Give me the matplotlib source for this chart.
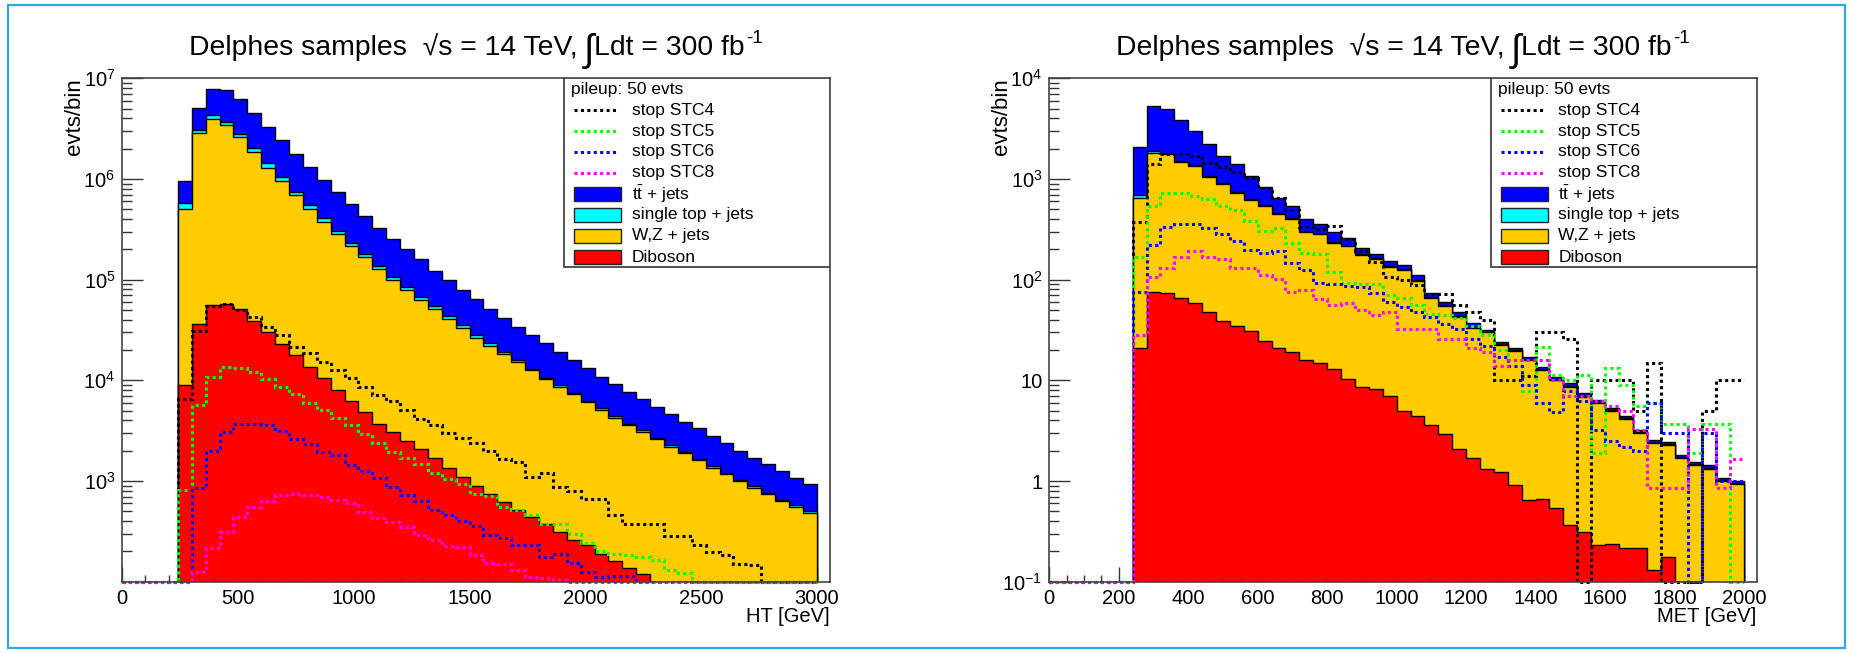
import numpy as np
import matplotlib
matplotlib.use("Agg")
import matplotlib.pyplot as plt
from matplotlib.patches import Rectangle
from matplotlib.lines import Line2D
from matplotlib.transforms import IdentityTransform
from matplotlib.ticker import FixedLocator, FixedFormatter, LogLocator, MultipleLocator, NullFormatter

plt.rcParams['font.family'] = ['Liberation Sans', 'DejaVu Sans']
plt.rcParams['mathtext.fontset'] = 'custom'
plt.rcParams['mathtext.rm'] = 'Liberation Sans'
plt.rcParams['mathtext.it'] = 'Liberation Sans:italic'
plt.rcParams['mathtext.bf'] = 'Liberation Sans:bold'

# ---------------- HT panel data (60 GeV bins, first filled bin starts at 240 GeV) ----------------
ht_bin_width = 60
ht_first_edge = 240
ht_diboson = [9.0e3, 3.6e4, 5.6e4, 5.7e4, 5.1e4, 3.9e4, 3.0e4, 2.3e4, 1.8e4, 1.36e4, 1.05e4, 8.0e3,
              6.2e3, 4.8e3, 3.7e3, 3.1e3, 2.5e3, 2.1e3, 1.7e3, 1.36e3, 1.1e3, 890, 750, 620, 520, 440,
              370, 310, 260, 230, 190, 160, 136, 118, 0, 0, 0, 0, 0, 0, 0, 0, 0, 0, 0, 0]
ht_wz = [4.95e5, 2.80e6, 3.85e6, 3.35e6, 2.54e6, 1.81e6, 1.27e6, 9.3e5, 6.7e5, 4.93e5, 3.66e5, 2.76e5,
         2.10e5, 1.62e5, 1.24e5, 9.7e4, 7.6e4, 6.1e4, 4.9e4, 3.95e4, 3.2e4, 2.56e4, 2.13e4, 1.75e4,
         1.48e4, 1.21e4, 9.9e3, 8.3e3, 7.0e3, 5.8e3, 4.9e3, 4.1e3, 3.46e3, 2.96e3, 2.61e3, 2.19e3,
         1.88e3, 1.61e3, 1.355e3, 1.164e3, 1.0e3, 857, 736, 632, 555, 484]
ht_singletop = [6.9e4, 2.6e5, 3.8e5, 3.0e5, 2.3e5, 1.8e5, 1.3e5, 9.0e4, 6.1e4, 4.4e4, 2.9e4, 2.2e4,
                1.7e4, 1.3e4, 1.0e4, 7.2e3, 5.6e3, 3.9e3, 3.6e3, 3.0e3, 2.4e3, 1.7e3, 1.3e3, 950, 720,
                530, 400, 340, 280, 230, 180, 150, 120, 110, 90, 75, 65, 55, 47, 40, 35, 30, 26, 22, 19, 17]
ht_ttbar = [3.8e5, 1.97e6, 3.47e6, 3.95e6, 3.36e6, 2.53e6, 1.88e6, 1.39e6, 1.02e6, 7.7e5, 5.7e5, 4.3e5,
            3.27e5, 2.49e5, 1.91e5, 1.46e5, 1.17e5, 9.2e4, 6.9e4, 5.5e4, 4.3e4, 3.6e4, 2.8e4, 2.26e4,
            1.8e4, 1.51e4, 1.26e4, 1.03e4, 8.4e3, 6.9e3, 5.6e3, 4.7e3, 4.0e3, 3.33e3, 2.77e3, 2.33e3,
            1.93e3, 1.66e3, 1.39e3, 1.16e3, 965, 815, 700, 600, 500, 424]
ht_stc4 = [6.6e3, 3.1e4, 5.5e4, 5.7e4, 5.0e4, 4.3e4, 3.4e4, 2.8e4, 2.16e4, 1.85e4, 1.53e4, 1.26e4,
           1.045e4, 8.6e3, 7.1e3, 6.2e3, 5.1e3, 4.1e3, 3.6e3, 2.97e3, 2.65e3, 2.36e3, 1.98e3, 1.66e3,
           1.55e3, 1.10e3, 1.20e3, 870, 790, 660, 660, 457, 372, 372, 372, 286, 286, 231, 195, 186,
           151, 148, 0, 0, 0, 0]
ht_stc5 = [813, 5.7e3, 1.09e4, 1.36e4, 1.33e4, 1.22e4, 1.03e4, 8.6e3, 7.3e3, 6.0e3, 5.1e3, 4.25e3,
           3.6e3, 2.9e3, 2.36e3, 1.95e3, 1.68e3, 1.46e3, 1.21e3, 1.045e3, 925, 740, 710, 555, 514,
           457, 372, 372, 297, 240, 201, 187, 186, 174, 164, 130, 121, 0, 0, 0, 0, 0, 0, 0, 0, 0]
ht_stc6 = [0, 843, 1.98e3, 3.08e3, 3.65e3, 3.65e3, 3.6e3, 3.13e3, 2.61e3, 2.33e3, 1.95e3, 1.81e3,
           1.44e3, 1.256e3, 1.06e3, 865, 724, 632, 514, 459, 400, 356, 294, 269, 234, 234, 177, 187,
           154, 126, 112, 115, 115, 0, 0, 0, 0, 0, 0, 0, 0, 0, 0, 0, 0, 0]
ht_stc8 = [0, 126, 217, 313, 442, 555, 632, 724, 736, 724, 698, 646, 600, 495, 431, 394, 352, 294,
           259, 228, 222, 184, 155, 150, 130, 112, 110, 105, 0, 0, 0, 0, 0, 0, 0, 0, 0, 0, 0, 0, 0,
           0, 0, 0, 0, 0]

# ---------------- MET panel data (40 GeV bins, first filled bin starts at 240 GeV) ----------------
met_bin_width = 40
met_first_edge = 240
met_diboson = [21.1, 74.8, 73.1, 66.2, 58.2, 47.3, 38.8, 34.8, 30.8, 24.5, 21.1, 19.2, 16.1, 14.7,
               12.9, 10.3, 8.6, 8.2, 7.0, 4.95, 4.45, 3.60, 2.90, 2.07, 1.70, 1.33, 1.24, 0.91, 0.65,
               0.66, 0.54, 0.365, 0.309, 0.231, 0.236, 0.217, 0.214, 0.130, 0.177, 0, 0, 0, 0, 0]
met_wz = [622, 1745, 1705, 1396, 1294, 1000, 852, 689, 586, 513, 426, 379, 279, 267, 221, 204, 169,
          154, 128, 121, 93, 62.5, 52, 40.6, 31.1, 28.6, 21.2, 18.6, 15.2, 12.0, 9.5, 8.27, 6.56, 5.67,
          4.72, 3.90, 2.76, 2.23, 2.10, 1.68, 1.44, 1.33, 1.0, 0.925]
met_singletop = [49, 64, 50, 34, 30, 22, 18, 15, 12, 10, 8, 7, 5, 5, 4, 3.5, 3, 2.5, 2, 2, 1.5, 1, 1,
                 0.8, 0.6, 0.5, 0.4, 0.35, 0.3, 0.25, 0.2, 0.17, 0.14, 0.12, 0.1, 0.08, 0.06, 0.05,
                 0.05, 0.04, 0.03, 0.03, 0.02, 0.02]
met_ttbar = [1397, 3425, 3127, 2359, 1610, 1139, 793, 657, 450, 291, 197, 138, 100, 68, 62, 40, 27,
             17, 16, 13, 12, 6, 4.3, 3.8, 3.4, 1.5, 1.3, 1.1, 0.9, 0.75, 0.6, 0.5, 0.4, 0.35, 0.3,
             0.25, 0.18, 0.14, 0.13, 0.1, 0.09, 0.08, 0.06, 0.05]
met_stc4 = [376, 1413, 1754, 1754, 1698, 1429, 1318, 1164, 1014, 807, 643, 490, 336, 318, 344, 251,
            191, 151, 107, 100, 89, 72, 72, 56, 48, 40, 10, 10, 11, 30, 30, 26, 0, 10, 10, 10, 5, 15,
            0, 0, 0, 5, 10, 10]
met_stc5 = [169, 542, 718, 718, 681, 631, 537, 490, 380, 304, 328, 229, 182, 178, 120, 92, 90, 91, 70,
            66, 56, 46, 45, 42, 35, 28, 20, 16, 7.9, 21.6, 11.2, 10, 11.2, 1.9, 13.2, 8.9, 5.5, 6.0,
            3.7, 3.7, 1.9, 3.7, 3.7, 0]
met_stc6 = [76, 221, 335, 361, 361, 324, 282, 240, 197, 182, 191, 145, 124, 92, 90, 86, 85, 73, 60, 54,
            48, 43, 36, 32, 26, 22, 17, 14, 8.9, 5.9, 4.9, 7.9, 6.3, 3.2, 2.5, 2.2, 2.0, 5.9, 3.0, 3.0,
            0, 3.0, 1.0, 1.0]
met_stc8 = [28, 107, 131, 169, 193, 169, 160, 131, 131, 111, 102, 76, 79, 64, 56, 58, 50, 45, 48, 32,
            32, 32, 26, 26, 21, 19, 14, 16, 16, 16, 10, 7, 7, 6.3, 5.6, 5.0, 3.2, 0.85, 0.85, 0.85,
            3.3, 3.3, 0.85, 1.66]

bkg_labels = ["t$\\mathrm{\\bar{t}}$ + jets", "single top + jets", "W,Z + jets", "Diboson"]
bkg_colors = ["#0000ff", "#00ffff", "#ffcc00", "#ff0000"]
sig_labels = ["stop STC4", "stop STC5", "stop STC6", "stop STC8"]
sig_colors = ["#000000", "#00ff00", "#0000ff", "#ff00ff"]
header = "pileup: 50 evts"
# title pieces: (text, fontsize, vertical offset px, gap before px)
title_pieces = [("Delphes samples  \u221As = 14 TeV,", 20.4, 0, 0),
                ("\u222B", 27, -6, 6),
                ("Ldt = 300 fb", 20.4, 0, 0),
                ("-1", 13.5, 12, 1)]

DOT = (0, (1.0, 1.1))
FS_TICK = 14.5
FS_LEG = 12.5


def draw_title(fig, ax):
    renderer = fig.canvas.get_renderer()
    pos = ax.get_position()
    W, H = fig.bbox.width, fig.bbox.height
    cx = 0.5 * (pos.x0 + pos.x1) * W
    base_y = H - 55
    items, total = [], 0.0
    for s, fs, dy, gap in title_pieces:
        t = fig.text(0, 0, s, fontsize=fs, ha="left", va="baseline",
                     transform=IdentityTransform())
        w = t.get_window_extent(renderer).width
        items.append((t, w, dy, gap))
        total += w + gap
    x = cx - total / 2
    for t, w, dy, gap in items:
        x += gap
        t.set_position((x, base_y + dy))
        x += w


def draw_panel(ax, width, first_edge, xmax, ymin, ymax, diboson, wz, st, tt, sigs,
               yticks, ylabels, xmajor, xminor, xlabel):
    nb = len(diboson)
    edges = first_edge + width * np.arange(nb + 1)
    layers = np.array([diboson, wz, st, tt], dtype=float)
    cum = np.cumsum(layers, axis=0)
    # draw from the full stack down to the bottom layer (ROOT THStack style)
    for k, col in zip([3, 2, 1, 0], bkg_colors):
        ax.stairs(np.maximum(cum[k], ymin), edges, baseline=ymin, fill=True,
                  facecolor=col, edgecolor="black", linewidth=1.0, zorder=2 + (3 - k) * 0.1)
    n_empty = int(round(first_edge / width))
    full_edges = width * np.arange(n_empty + nb + 1)
    for vals, col in zip(sigs, sig_colors):
        full = np.concatenate([np.zeros(n_empty), np.asarray(vals, dtype=float)])
        ax.stairs(np.maximum(full, ymin), full_edges, baseline=None, fill=False,
                  edgecolor=col, linewidth=2.2, linestyle=DOT, zorder=4, clip_on=False)

    ax.set_yscale("log")
    ax.set_xlim(0, xmax)
    ax.set_ylim(ymin, ymax)
    ax.yaxis.set_major_locator(FixedLocator(yticks))
    ax.yaxis.set_major_formatter(FixedFormatter(ylabels))
    ax.yaxis.set_minor_locator(LogLocator(base=10, subs=np.arange(2, 10), numticks=30))
    ax.yaxis.set_minor_formatter(NullFormatter())
    ax.xaxis.set_major_locator(MultipleLocator(xmajor))
    ax.xaxis.set_minor_locator(MultipleLocator(xminor))
    ax.tick_params(which="both", direction="in", top=False, right=False,
                   labelsize=FS_TICK, color="#333333", width=1.0)
    ax.tick_params(axis="y", which="major", length=15, pad=5)
    ax.tick_params(axis="y", which="minor", length=7.5)
    ax.tick_params(axis="x", which="major", length=10.5, pad=5)
    ax.tick_params(axis="x", which="minor", length=5)
    for sp in ax.spines.values():
        sp.set_color("#444444")
        sp.set_linewidth(1.2)
        sp.set_zorder(6)

    ax.text(1.0, -0.0695, xlabel, transform=ax.transAxes, ha="right", va="center", fontsize=14.5)
    ax.text(-0.067, 1.0, "evts/bin", transform=ax.transAxes, ha="center", va="top",
            rotation=90, fontsize=16)

    # legend box (ROOT TLegend look)
    x0, y0 = 0.6246, 0.6245
    ax.add_patch(Rectangle((x0, y0), 1 - x0, 1 - y0, transform=ax.transAxes, facecolor="white",
                           edgecolor="#333333", linewidth=1.2, zorder=8))
    rows = [0.9787, 0.9370, 0.8953, 0.8542, 0.8125, 0.7702, 0.7285, 0.6868, 0.6445]
    ax.text(0.634, rows[0], header, transform=ax.transAxes, ha="left", va="center",
            fontsize=FS_LEG, zorder=9)
    for yy, lab, col in zip(rows[1:5], sig_labels, sig_colors):
        ax.add_line(Line2D([0.638, 0.699], [yy, yy], transform=ax.transAxes, color=col,
                           linewidth=2.2, linestyle=DOT, zorder=9))
        ax.text(0.7198, yy, lab, transform=ax.transAxes, ha="left", va="center",
                fontsize=FS_LEG, zorder=9)
    for yy, lab, col in zip(rows[5:], bkg_labels, bkg_colors):
        ax.add_patch(Rectangle((0.638, yy - 0.0135), 0.067, 0.027, transform=ax.transAxes,
                               facecolor=col, edgecolor="#222222", linewidth=1.0, zorder=9))
        ax.text(0.7198, yy, lab, transform=ax.transAxes, ha="left", va="center",
                fontsize=FS_LEG, zorder=9)


fig = plt.figure(figsize=(18.51, 6.53), dpi=100)
ax1 = fig.add_axes([0.06607, 0.10919, 0.3823, 0.7709])
ax2 = fig.add_axes([0.56688, 0.10919, 0.38218, 0.7709])

draw_panel(ax1, ht_bin_width, ht_first_edge, 3057, 100, 1e7,
           ht_diboson, ht_wz, ht_singletop, ht_ttbar, [ht_stc4, ht_stc5, ht_stc6, ht_stc8],
           [1e3, 1e4, 1e5, 1e6, 1e7],
           ["$10^{3}$", "$10^{4}$", "$10^{5}$", "$10^{6}$", "$10^{7}$"],
           500, 100, "HT [GeV]")
draw_panel(ax2, met_bin_width, met_first_edge, 2036.6, 0.1, 1e4,
           met_diboson, met_wz, met_singletop, met_ttbar, [met_stc4, met_stc5, met_stc6, met_stc8],
           [0.1, 1, 10, 1e2, 1e3, 1e4],
           ["$10^{-1}$", "1", "10", "$10^{2}$", "$10^{3}$", "$10^{4}$"],
           200, 50, "MET [GeV]")
draw_title(fig, ax1)
draw_title(fig, ax2)

fig.add_artist(Rectangle((7.5 / 1851, 5 / 653), (1845 - 7.5) / 1851, (648 - 5) / 653,
                         transform=fig.transFigure, fill=False, edgecolor="#29abe2", linewidth=1.6))

fig.savefig("out.png", dpi=100)
